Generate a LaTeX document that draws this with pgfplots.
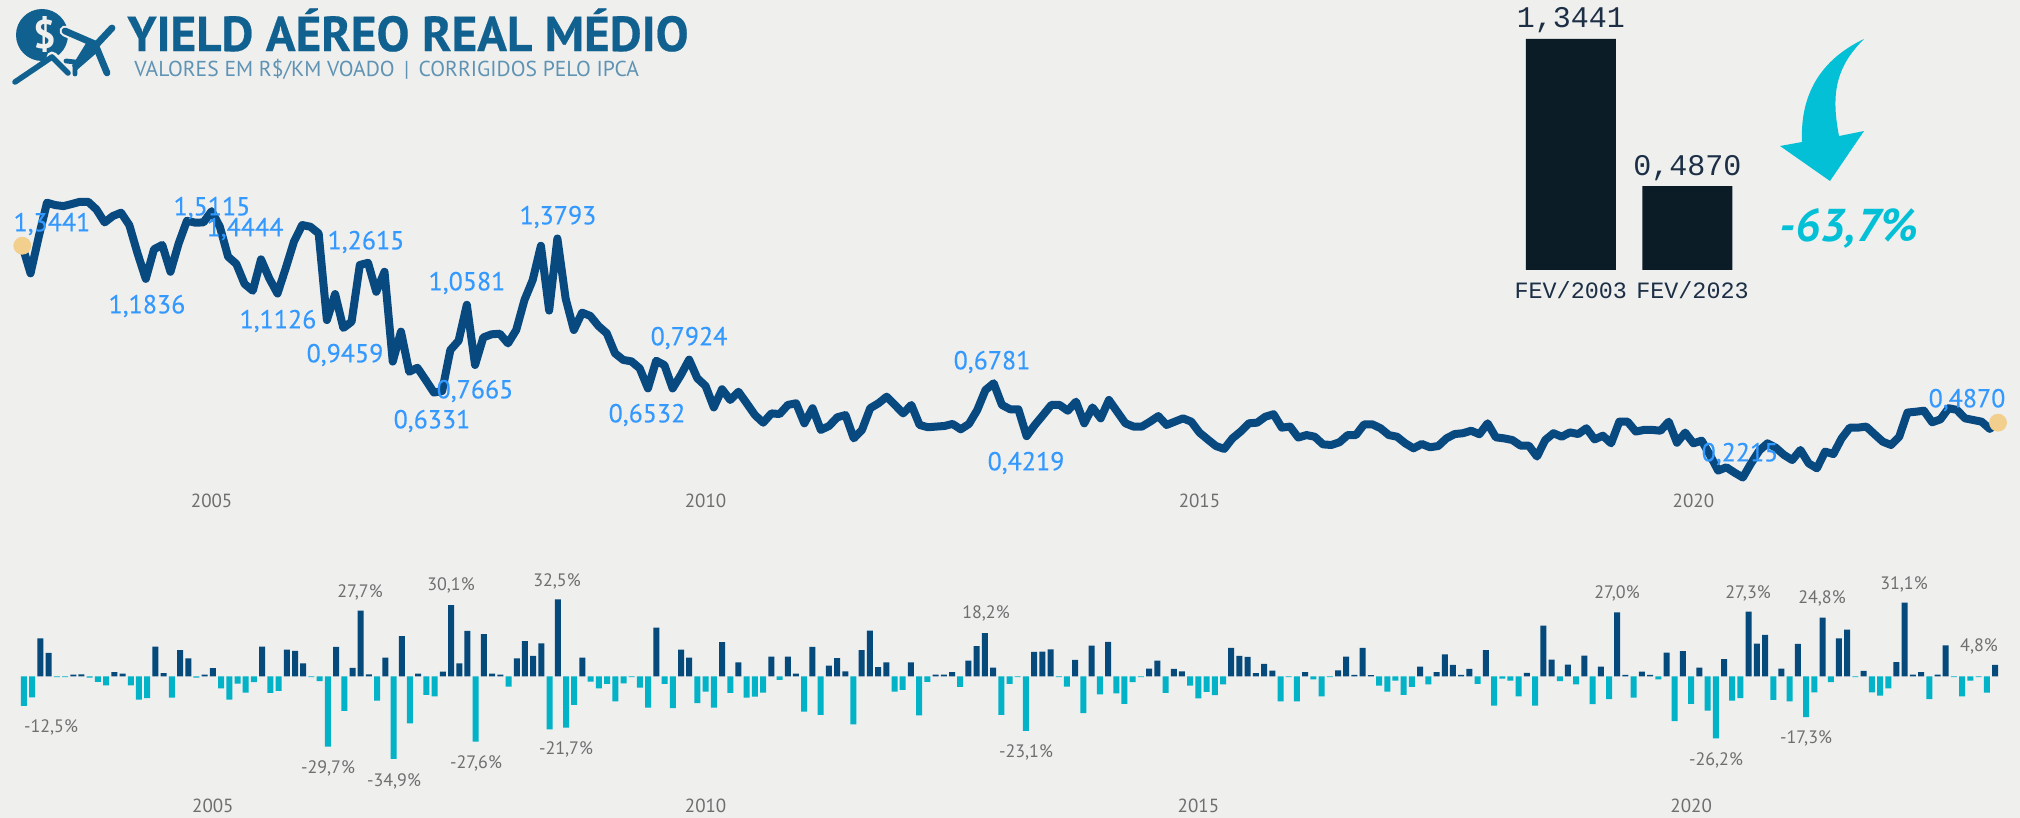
\documentclass[border=0pt]{standalone}
\usepackage{pgfplots}
\pgfplotsset{compat=1.18}
\usepackage{fontspec}
\setmainfont{PT Sans}
\newfontfamily\monof{Liberation Mono}
\newfontfamily\labf[FakeBold=0.25]{PT Sans}
\newfontfamily\titf[FakeBold=0.4]{PT Sans Bold}
\definecolor{bgc}{HTML}{EFEFEE}
\definecolor{linec}{HTML}{084A80}
\definecolor{labc}{HTML}{3399FF}
\definecolor{posc}{HTML}{064A7C}
\definecolor{negc}{HTML}{02B3C8}
\definecolor{dotc}{HTML}{F3CF8D}
\definecolor{grayc}{HTML}{6E6E6E}
\definecolor{darkbar}{HTML}{0C1C26}
\definecolor{monoc}{HTML}{1C2F45}
\definecolor{arrowc}{HTML}{04C0D6}
\definecolor{titlec}{HTML}{10618F}
\definecolor{subc}{HTML}{5F93B4}
\begin{document}
\begin{tikzpicture}
\useasboundingbox (0,0) rectangle (1010pt,-409pt);
\fill[bgc] (0,0) rectangle (1010pt,-409pt);

% ---------- line chart
\begin{axis}[
  at={(11.15pt,-245.1pt)},anchor=south west,
  scale only axis,width=987.85pt,height=148.65pt,
  xmin=0,xmax=240,ymin=0.16,ymax=1.6,
  clip=false,axis line style={draw=none},tick style={draw=none},
  ytick=\empty,xtick={23,83,143,203},xticklabels={2005,2010,2015,2020},
  xticklabel style={font=\fontsize{9.5}{11}\selectfont,text=grayc,yshift=1.5pt},
]
\addplot[linec,line width=4pt,line join=round,line cap=round] coordinates {
(0,1.3441)(1,1.2103)(2,1.388)(3,1.5525)(4,1.541)(5,1.536)(6,1.546)(7,1.557)(8,1.557)(9,1.520)
(10,1.457)(11,1.488)(12,1.504)(13,1.444)(14,1.307)(15,1.1836)(16,1.327)(17,1.348)(18,1.218)(19,1.356)
(20,1.465)(21,1.456)(22,1.457)(23,1.5115)(24,1.436)(25,1.291)(26,1.256)(27,1.159)(28,1.126)(29,1.278)
(30,1.186)(31,1.1126)(32,1.235)(33,1.364)(34,1.4444)(35,1.436)(36,1.404)(37,0.984)(38,1.110)(39,0.9459)
(40,0.976)(41,1.251)(42,1.2615)(43,1.121)(44,1.218)(45,0.783)(46,0.928)(47,0.734)(48,0.753)(49,0.694)
(50,0.6331)(51,0.640)(52,0.839)(53,0.884)(54,1.0581)(55,0.7665)(56,0.900)(57,0.915)(58,0.918)(59,0.871)
(60,0.936)(61,1.081)(62,1.178)(63,1.344)(64,1.030)(65,1.3793)(66,1.089)(67,0.936)(68,1.020)(69,1.004)
(70,0.955)(71,0.920)(72,0.823)(73,0.791)(74,0.784)(75,0.750)(76,0.6532)(77,0.787)(78,0.766)(79,0.653)
(80,0.718)(81,0.7924)(82,0.702)(83,0.665)(84,0.561)(85,0.649)(86,0.597)(87,0.637)(88,0.581)(89,0.524)
(90,0.487)(91,0.532)(92,0.529)(93,0.573)(94,0.581)(95,0.484)(96,0.557)(97,0.452)(98,0.471)(99,0.513)
(100,0.524)(101,0.411)(102,0.452)(103,0.557)(104,0.581)(105,0.613)(106,0.573)(107,0.532)(108,0.573)(109,0.476)
(110,0.465)(111,0.468)(112,0.471)(113,0.481)(114,0.455)(115,0.481)(116,0.548)(117,0.645)(118,0.6781)(119,0.573)
(120,0.552)(121,0.552)(122,0.4219)(123,0.476)(124,0.524)(125,0.573)(126,0.573)(127,0.545)(128,0.589)(129,0.484)
(130,0.561)(131,0.508)(132,0.597)(133,0.5405)(134,0.484)(135,0.468)(136,0.468)(137,0.492)(138,0.519)(139,0.476)
(140,0.492)(141,0.508)(142,0.492)(143,0.439)(144,0.406)(145,0.374)(146,0.360)(147,0.411)(148,0.444)(149,0.484)
(150,0.487)(151,0.516)(152,0.528)(153,0.463)(154,0.468)(155,0.415)(156,0.427)(157,0.419)(158,0.382)(159,0.379)
(160,0.392)(161,0.427)(162,0.427)(163,0.479)(164,0.479)(165,0.460)(166,0.427)(167,0.419)(168,0.387)(169,0.363)
(170,0.384)(171,0.368)(172,0.374)(173,0.411)(174,0.432)(175,0.436)(176,0.448)(177,0.431)(178,0.484)(179,0.416)
(180,0.411)(181,0.403)(182,0.376)(183,0.376)(184,0.323)(185,0.403)(186,0.436)(187,0.419)(188,0.440)(189,0.432)
(190,0.460)(191,0.406)(192,0.424)(193,0.387)(194,0.492)(195,0.492)(196,0.444)(197,0.452)(198,0.452)(199,0.448)
(200,0.492)(201,0.390)(202,0.439)(203,0.387)(204,0.400)(205,0.331)(206,0.255)(207,0.271)(208,0.245)(209,0.2215)
(210,0.290)(211,0.352)(212,0.387)(213,0.366)(214,0.331)(215,0.306)(216,0.355)(217,0.290)(218,0.266)(219,0.347)
(220,0.335)(221,0.411)(222,0.463)(223,0.463)(224,0.468)(225,0.431)(226,0.395)(227,0.379)(228,0.419)(229,0.536)
(230,0.540)(231,0.545)(232,0.489)(233,0.503)(234,0.557)(235,0.549)(236,0.508)(237,0.500)(238,0.492)(239,0.457)
(240,0.4870)};
\addplot[only marks,mark=*,mark size=4.25pt,dotc,mark options={draw=none,fill=dotc}] coordinates {(0,1.3441)(240,0.4870)};
\end{axis}

% ---------- monthly change bars
\begin{axis}[
  at={(12pt,-397.3pt)},anchor=south west,
  scale only axis,width=985.5pt,height=106.5pt,
  xmin=0,xmax=240,ymin=-50,ymax=40,
  clip=false,axis line style={draw=none},tick style={draw=none},
  ytick=\empty,xtick={23,83,143,203},xticklabels={2005,2010,2015,2020},
  xticklabel style={font=\fontsize{9.5}{11}\selectfont,text=grayc,yshift=1.5pt},
]
\addplot[ybar,bar width=3pt,bar shift=0pt,fill=posc,draw=none] coordinates {
(2,16)(3,9.9)(6,.7)(7,.8)(11,1.8)(12,1.1)(16,12.5)(17,1.3)(19,11.1)(20,7.6)(22,.7)(23,3.4)(29,12.5)(32,11.3)(33,10.7)(34,5.4)(38,12.4)(40,3.5)(41,27.7)(42,.8)(44,7.9)(46,17)(48,1.1)(51,2)(52,30.1)(53,5.5)(54,19.2)(56,17.8)(57,1.1)(58,.7)(60,7.6)(61,14.9)(62,8.6)(63,13.9)(65,32.5)(68,7.9)(77,20.6)(80,11.3)(81,7.9)(85,14.4)(87,5.9)(91,8.3)(93,8.3)(94,1.1)(96,12.4)(98,4.5)(99,7.7)(100,2.1)(102,11)(103,19.3)(104,3.9)(105,5.9)(108,5.9)(111,.7)(112,.7)(113,1.8)(115,6.6)(116,12.7)(117,18.2)(118,3.7)(123,10.3)(124,10.4)(125,11.4)(128,6.9)(130,13)(132,14.5)(137,3.2)(138,6.6)(140,3.1)(141,2.1)(147,12)(148,8.6)(149,8.2)(150,1.3)(151,5.2)(152,2.4)(156,1.7)(160,2.5)(161,8.3)(162,.6)(163,12)(164,.5)(170,4.1)(172,1.8)(173,9.2)(174,4.8)(175,.6)(176,3.1)(178,11)(183,1.4)(185,21.4)(186,7)(188,4.9)(190,8.7)(192,4.1)(194,27)(195,.6)(197,2)(198,.6)(200,10)(202,10.6)(204,3.7)(207,7.2)(210,27.3)(211,13.8)(212,17.5)(214,3.2)(216,13.7)(219,24.8)(221,16)(222,19.7)(224,2.3)(228,6)(229,31.1)(230,.7)(231,1.8)(233,.7)(234,13.1)(240,4.8)};
\addplot[ybar,bar width=3pt,bar shift=0pt,fill=negc,draw=none] coordinates {
(0,-12.5)(1,-8.9)(4,-.4)(5,-.4)(8,-.6)(9,-2.4)(10,-3.8)(13,-3.8)(14,-9.9)(15,-9.2)(18,-9)(21,-.6)(24,-5.1)(25,-9.9)(26,-3.1)(27,-6.9)(28,-2.5)(30,-7)(31,-6.2)(35,-.4)(36,-2)(37,-29.7)(39,-14.6)(43,-10.3)(45,-34.9)(47,-19.9)(49,-7.9)(50,-8.5)(55,-27.6)(59,-4.4)(64,-22.4)(66,-21.7)(67,-12.1)(69,-2.3)(70,-5.1)(71,-3.2)(72,-10.6)(73,-3)(74,-.4)(75,-4.8)(76,-13.2)(78,-3.2)(79,-13.5)(82,-11.3)(83,-6.5)(84,-13.2)(86,-7)(88,-9)(89,-8.6)(90,-6.9)(92,-1.5)(95,-14.9)(97,-16.3)(101,-20.3)(106,-6.5)(107,-5.8)(109,-16.5)(110,-2.4)(114,-4.5)(119,-16.3)(120,-3.2)(121,-.4)(122,-23.1)(126,-.4)(127,-4.4)(129,-15.6)(131,-7.6)(133,-7.2)(134,-11.7)(135,-2.5)(136,-.4)(139,-7)(142,-3.9)(143,-9.3)(144,-6.6)(145,-8)(146,-3.4)(153,-10.6)(154,-.4)(155,-10.6)(157,-1.3)(158,-8.5)(159,-.4)(165,-3.9)(166,-6.5)(167,-1.8)(168,-7.9)(169,-4.5)(171,-3.4)(177,-3.2)(179,-12.4)(180,-1)(181,-1.8)(182,-8.5)(184,-12.4)(187,-2)(189,-3.4)(191,-11.8)(193,-9.7)(196,-9)(199,-1.3)(201,-18.9)(203,-11.7)(205,-14.5)(206,-26.2)(208,-10.3)(209,-9.2)(213,-10)(215,-10.6)(217,-17.3)(218,-6.8)(220,-2.5)(223,-.4)(225,-6.8)(226,-8.2)(227,-5.1)(232,-9.7)(235,-.4)(236,-8.5)(237,-1.8)(238,-.4)(239,-6.9)};
\end{axis}

% ---------- FEV/2003 vs FEV/2023
\begin{axis}[
  at={(756.25pt,-135pt)},anchor=south west,
  scale only axis,width=116.5pt,height=120.4pt,
  xmin=-0.5,xmax=1.5,ymin=0,ymax=1.4,
  clip=false,axis line style={draw=none},tick style={draw=none},
  ytick=\empty,xtick={0,1.045},xticklabels={FEV/2003,FEV/2023},
  xticklabel style={font=\monof\fontsize{11.7}{13}\selectfont,text=monoc,yshift=-2pt},
  nodes near coords,
  every node near coord/.append style={font=\monof\fontsize{15}{17}\selectfont,text=monoc,yshift=-0.7pt},
  /pgf/number format/.cd,fixed,fixed zerofill,precision=4,use comma,assume math mode=true,
]
\addplot[ybar,bar width=45pt,bar shift=0pt,fill=darkbar,draw=none] coordinates {(0,1.3441)(1,0.4870)};
\end{axis}

% ---------- texts and drawings in picture pixels (x right, y down, 1 px = .5 pt)
\begin{scope}[x=0.5pt,y=-0.5pt]
% data labels of the line
\tikzset{lab/.style={font=\labf\fontsize{13}{14}\selectfont,text=labc,inner sep=0pt,anchor=center}}
\node[lab] at (52,224) {1,3441};
\node[lab] at (147,306) {1,1836};
\node[lab] at (212,208) {1,5115};
\node[lab] at (245,229) {1,4444};
\node[lab] at (278,321) {1,1126};
\node[lab] at (366,242) {1,2615};
\node[lab] at (345,355) {0,9459};
\node[lab] at (467,283) {1,0581};
\node[lab] at (475,391) {0,7665};
\node[lab] at (432,421) {0,6331};
\node[lab] at (558,217) {1,3793};
\node[lab] at (647,415) {0,6532};
\node[lab] at (689,338) {0,7924};
\node[lab] at (992,362) {0,6781};
\node[lab] at (1026,463) {0,4219};
\node[lab] at (1740,454) {0,2215};
\node[lab] at (1967,400) {0,4870};
% data labels of the bars
\tikzset{blab/.style={font=\fontsize{9}{10}\selectfont,text=grayc,inner sep=0pt,anchor=center}}
\node[blab] at (51,727) {-12,5\%};
\node[blab] at (360,592) {27,7\%};
\node[blab] at (451,585) {30,1\%};
\node[blab] at (557,581) {32,5\%};
\node[blab] at (328,768) {-29,7\%};
\node[blab] at (394,781) {-34,9\%};
\node[blab] at (476,763) {-27,6\%};
\node[blab] at (566,749) {-21,7\%};
\node[blab] at (986,613) {18,2\%};
\node[blab] at (1026,752) {-23,1\%};
\node[blab] at (1617,593) {27,0\%};
\node[blab] at (1748,593) {27,3\%};
\node[blab] at (1822,598) {24,8\%};
\node[blab] at (1904,584) {31,1\%};
\node[blab] at (1979,646) {4,8\%};
\node[blab] at (1716,760) {-26,2\%};
\node[blab] at (1806,738) {-17,3\%};
% curved arrow
\fill[arrowc] (1864,39) .. controls (1820,60) and (1800,95) .. (1802,142)
  -- (1780,146) -- (1830,181) -- (1864,131) -- (1839,136)
  .. controls (1830,90) and (1838,65) .. (1864,39) -- cycle;
\node[font=\bfseries\itshape\fontsize{23}{25}\selectfont,text=arrowc,inner sep=0pt] at (1849,228) {-63,7\%};
% title
\node[anchor=west,inner sep=0pt,font=\titf\fontsize{24.6}{26}\selectfont,text=titlec] at (127,30) {YIELD AÉREO REAL MÉDIO};
\node[anchor=west,inner sep=0pt,font=\fontsize{10.8}{12}\selectfont,text=subc] at (134,69) {VALORES EM R\$/KM VOADO \,|\, CORRIGIDOS PELO IPCA};
% logo
\fill[titlec] (42,35) circle (26);
\node[font=\bfseries\fontsize{20}{22}\selectfont,text=bgc,inner sep=0pt] at (45,35) {\$};
% halos
\draw[bgc,line width=5.5pt,line cap=round] (65,31) -- (93,43);
\draw[bgc,line width=5.5pt,line cap=round] (52,57) -- (68,72);
\fill[bgc] (60,62) -- (76,76) -- (90,60) -- (75,48) -- cycle;
% plane
\draw[titlec,line width=3.4pt,line cap=round] (65,31) -- (95,44);
\draw[titlec,line width=3.4pt,line cap=round] (95,44) -- (107,73);
\draw[titlec,line width=3.4pt,line cap=round] (112,28) -- (84,58);
\fill[titlec] (88,40) -- (100,50) -- (77,70) -- (72,66) -- cycle;
\draw[titlec,line width=2.4pt,line cap=round] (66,61) -- (75,62) -- (75,74);
% arrow of the logo
\draw[titlec,line width=2.8pt,line cap=round,line join=round] (15,82) -- (52,57) -- (68,73);
\end{scope}
\end{tikzpicture}
\end{document}
